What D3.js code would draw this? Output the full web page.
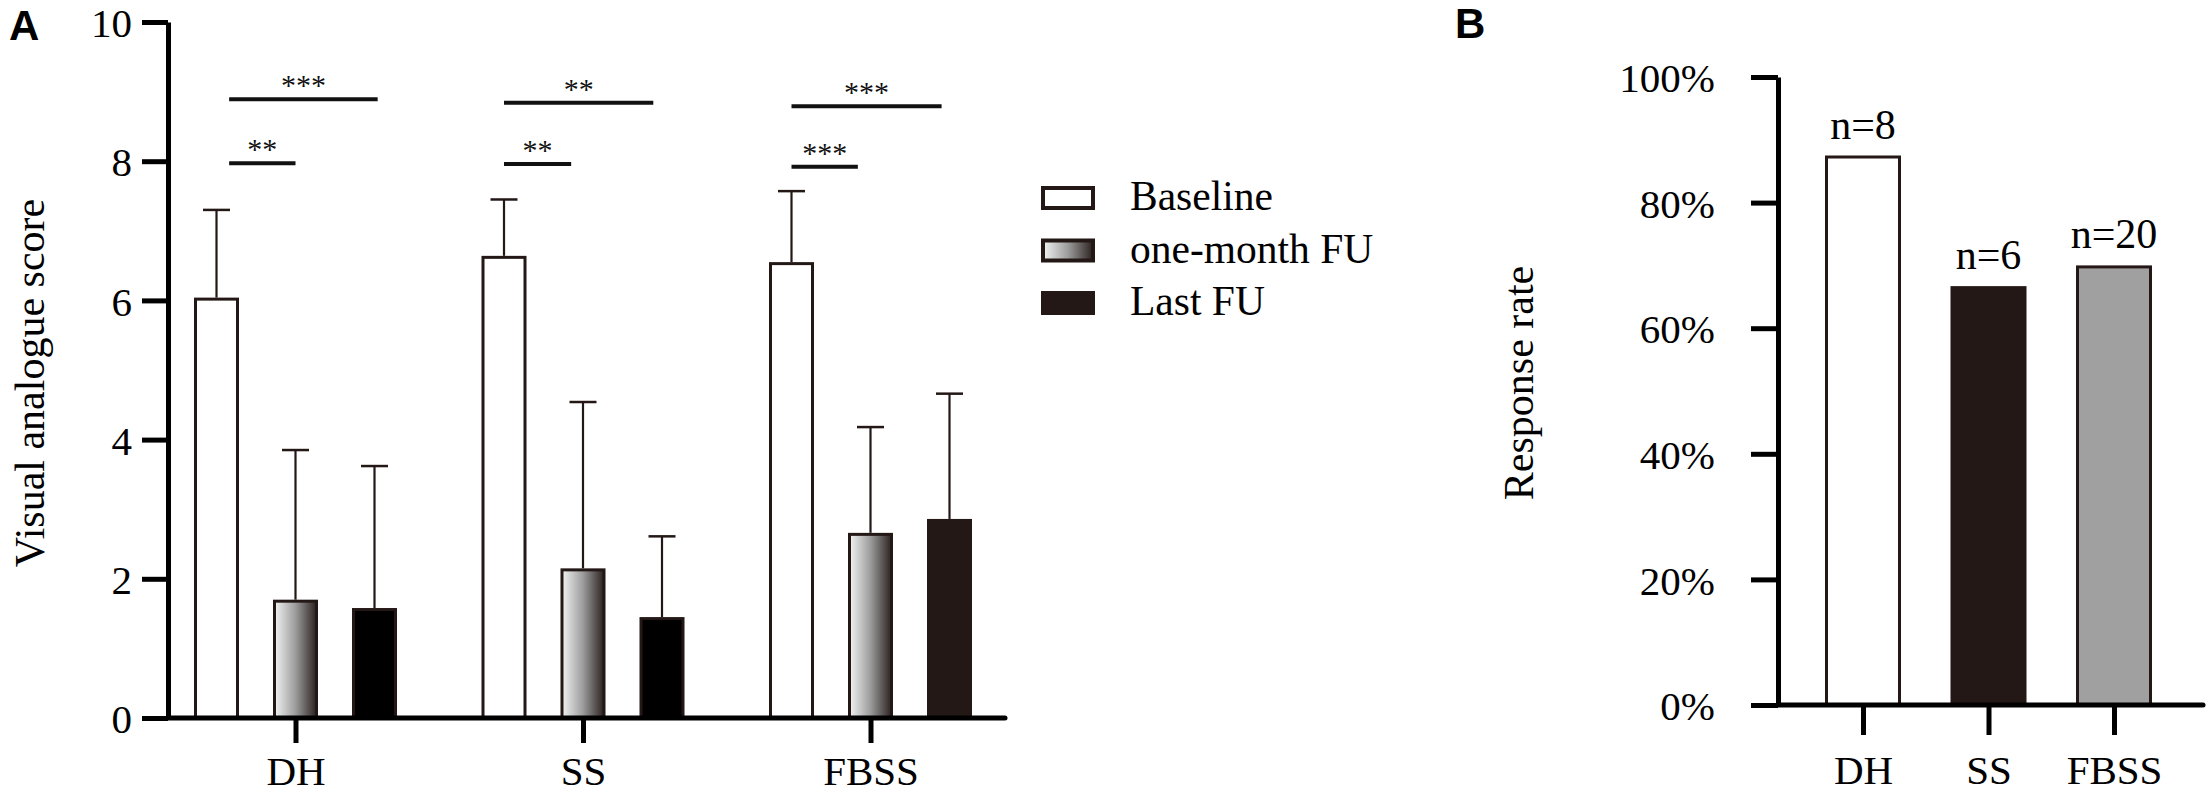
<!DOCTYPE html>
<html>
<head>
<meta charset="utf-8">
<script src="https://cdn.jsdelivr.net/npm/d3@7"></script>
<style>
  body { margin: 0; background: #fff; }
  svg { display: block; }
</style>
</head>
<body>
<div id="chart"></div>
<script>
// panel A: visual analogue score by group and time point
var groups = ['DH', 'SS', 'FBSS'];
var periods = ['Baseline', 'one-month FU', 'Last FU'];
var meanBaseline = [6.04, 6.64, 6.55];
var meanOneMonth = [1.70, 2.15, 2.66];
var meanLastFU   = [1.58, 1.45, 2.86];
var sdBaseline = [1.26, 0.81, 1.02];
var sdOneMonth = [2.15, 2.39, 1.52];
var sdLastFU   = [2.04, 1.16, 1.80];
var vasTicks = [0, 2, 4, 6, 8, 10];

// significance bars: group, from / to (bar index inside group), height, label
var sigGroup = ['DH', 'DH', 'SS', 'SS', 'FBSS', 'FBSS'];
var sigFrom  = [0.16, 0.16, 0, 0, 0, 0];
var sigTo    = [1.0, 2.04, 0.85, 1.89, 0.84, 1.9];
var sigLevel = [7.97, 8.89, 7.96, 8.84, 7.92, 8.79];
var sigLabel = ['**', '***', '**', '**', '***', '***'];

// panel B: response rate
var rateGroups = ['DH', 'SS', 'FBSS'];
var responseRate = [0.875, 0.667, 0.70];
var responseN = [8, 6, 20];
var rateTicks = [0, 0.2, 0.4, 0.6, 0.8, 1];

var W = 2208, H = 795;
var serif = 'Liberation Serif, Times New Roman, serif';
var dark = '#231815';

var svg = d3.select('#chart').append('svg')
  .attr('width', W)
  .attr('height', H)
  .attr('viewBox', [0, 0, W, H]);

var defs = svg.append('defs');
var grad = defs.append('linearGradient').attr('id', 'oneMonthGrad')
  .attr('x1', '0').attr('x2', '1').attr('y1', '0').attr('y2', '0');
grad.append('stop').attr('offset', '0%').attr('stop-color', '#f2f3f3');
grad.append('stop').attr('offset', '50%').attr('stop-color', '#9c9c9c');
grad.append('stop').attr('offset', '100%').attr('stop-color', '#2b2220');

// ---------- Panel A ----------
var ax0 = 168, axEnd = 1005;
var yA = d3.scaleLinear().domain([0, 10]).range([718, 22]);
var xA = d3.scalePoint().domain(groups).range([295.5, 870.5]);
var xInner = d3.scalePoint().domain(periods).range([-79, 79]);
var barW = 45, barStroke = 3;

var seriesMean = [meanBaseline, meanOneMonth, meanLastFU];
var seriesSd = [sdBaseline, sdOneMonth, sdLastFU];

function barFill(p, g) {
  if (p === 0) return '#fff';
  if (p === 1) return 'url(#oneMonthGrad)';
  return g === 'FBSS' ? dark : '#000';
}

var barsA = [];
periods.forEach(function(p, pi) {
  groups.forEach(function(g, gi) {
    barsA.push({ group: g, period: p, pi: pi, mean: seriesMean[pi][gi], sd: seriesSd[pi][gi] });
  });
});

var gA = svg.append('g').attr('id', 'panelA');

gA.selectAll('rect.bar').data(barsA).enter().append('rect')
  .attr('class', 'bar')
  .attr('x', function(d) { return xA(d.group) + xInner(d.period) - barW / 2 + barStroke / 2; })
  .attr('y', function(d) { return yA(d.mean) + barStroke / 2; })
  .attr('width', barW - barStroke)
  .attr('height', function(d) { return yA(0) - yA(d.mean) - barStroke / 2; })
  .attr('fill', function(d) { return barFill(d.pi, d.group); })
  .attr('stroke', dark)
  .attr('stroke-width', barStroke);

// upper error bars
var capW = 27;
gA.selectAll('line.err').data(barsA).enter().append('line')
  .attr('class', 'err')
  .attr('x1', function(d) { return xA(d.group) + xInner(d.period); })
  .attr('x2', function(d) { return xA(d.group) + xInner(d.period); })
  .attr('y1', function(d) { return yA(d.mean); })
  .attr('y2', function(d) { return yA(d.mean + d.sd); })
  .attr('stroke', dark)
  .attr('stroke-width', 2.2);
gA.selectAll('line.cap').data(barsA).enter().append('line')
  .attr('class', 'cap')
  .attr('x1', function(d) { return xA(d.group) + xInner(d.period) - capW / 2; })
  .attr('x2', function(d) { return xA(d.group) + xInner(d.period) + capW / 2; })
  .attr('y1', function(d) { return yA(d.mean + d.sd); })
  .attr('y2', function(d) { return yA(d.mean + d.sd); })
  .attr('stroke', dark)
  .attr('stroke-width', 2.5);

// significance lines
var sig = sigGroup.map(function(g, i) {
  return { group: g, from: sigFrom[i], to: sigTo[i], level: sigLevel[i], label: sigLabel[i] };
});
function innerPos(k) { return xInner(periods[0]) + k * xInner.step(); }

gA.selectAll('line.sig').data(sig).enter().append('line')
  .attr('class', 'sig')
  .attr('x1', function(d) { return xA(d.group) + innerPos(d.from); })
  .attr('x2', function(d) { return xA(d.group) + innerPos(d.to); })
  .attr('y1', function(d) { return yA(d.level); })
  .attr('y2', function(d) { return yA(d.level); })
  .attr('stroke', '#111')
  .attr('stroke-width', 4);
gA.selectAll('text.sig').data(sig).enter().append('text')
  .attr('class', 'sig')
  .attr('x', function(d) { return xA(d.group) + (innerPos(d.from) + innerPos(d.to)) / 2; })
  .attr('y', function(d) { return yA(d.level) - 4; })
  .attr('text-anchor', 'middle')
  .attr('font-family', serif)
  .attr('font-size', 30)
  .attr('fill', '#111')
  .text(function(d) { return d.label; });

// axes
var yAxisA = gA.append('g')
  .attr('transform', 'translate(' + ax0 + ',0)')
  .call(d3.axisLeft(yA).tickValues(vasTicks).tickSize(26).tickSizeOuter(0).tickPadding(10));
var xAxisA = gA.append('g')
  .attr('transform', 'translate(0,' + yA(0) + ')')
  .call(d3.axisBottom(xA).tickSize(25).tickSizeOuter(0).tickPadding(13));
xAxisA.select('.domain').remove();
gA.append('line')
  .attr('x1', ax0).attr('x2', axEnd)
  .attr('y1', yA(0)).attr('y2', yA(0))
  .attr('stroke', '#000').attr('stroke-width', 5).attr('stroke-linecap', 'round');

// legend
var legend = gA.append('g').attr('id', 'legend')
  .attr('transform', 'translate(1043,198)');
legend.selectAll('rect').data(periods).enter().append('rect')
  .attr('x', 0)
  .attr('y', function(d, i) { return i * 52.5 - 10; })
  .attr('width', 50)
  .attr('height', 20)
  .attr('fill', function(d, i) { return i === 2 ? dark : barFill(i, 'DH'); })
  .attr('stroke', dark)
  .attr('stroke-width', 4);
legend.selectAll('text').data(periods).enter().append('text')
  .attr('x', 87)
  .attr('y', function(d, i) { return i * 52.5 + 12; })
  .attr('font-family', serif)
  .attr('font-size', 41.5)
  .attr('fill', '#000')
  .text(function(d) { return d; });

// axis title
gA.append('text')
  .attr('transform', 'translate(44,383) rotate(-90)')
  .attr('text-anchor', 'middle')
  .attr('font-family', serif)
  .attr('font-size', 42)
  .text('Visual analogue score');

// ---------- Panel B ----------
var bx0 = 1778, bxEnd = 2203;
var yB = d3.scaleLinear().domain([0, 1]).range([705, 77]);
var xB = d3.scalePoint().domain(rateGroups).range([1863, 2114]);
var barWB = 76;
var rateFill = ['#fff', dark, '#a0a0a0'];

var barsB = rateGroups.map(function(g, i) {
  return { group: g, rate: responseRate[i], n: responseN[i], fill: rateFill[i] };
});

var gB = svg.append('g').attr('id', 'panelB');
gB.selectAll('rect.bar').data(barsB).enter().append('rect')
  .attr('class', 'bar')
  .attr('x', function(d) { return xB(d.group) - barWB / 2 + barStroke / 2; })
  .attr('y', function(d) { return yB(d.rate) + barStroke / 2; })
  .attr('width', barWB - barStroke)
  .attr('height', function(d) { return yB(0) - yB(d.rate) - barStroke / 2; })
  .attr('fill', function(d) { return d.fill; })
  .attr('stroke', dark)
  .attr('stroke-width', barStroke);
gB.selectAll('text.n').data(barsB).enter().append('text')
  .attr('class', 'n')
  .attr('x', function(d) { return xB(d.group); })
  .attr('y', function(d) { return yB(d.rate) - 17; })
  .attr('text-anchor', 'middle')
  .attr('font-family', serif)
  .attr('font-size', 42)
  .text(function(d) { return 'n=' + d.n; });

var yAxisB = gB.append('g')
  .attr('transform', 'translate(' + bx0 + ',0)')
  .call(d3.axisLeft(yB).tickValues(rateTicks).tickFormat(d3.format('.0%'))
    .tickSize(27).tickSizeOuter(0).tickPadding(36));
var xAxisB = gB.append('g')
  .attr('transform', 'translate(0,' + yB(0) + ')')
  .call(d3.axisBottom(xB).tickSize(30).tickSizeOuter(0).tickPadding(20));
xAxisB.select('.domain').remove();
gB.append('line')
  .attr('x1', bx0).attr('x2', bxEnd)
  .attr('y1', yB(0)).attr('y2', yB(0))
  .attr('stroke', '#000').attr('stroke-width', 5).attr('stroke-linecap', 'round');

gB.append('text')
  .attr('transform', 'translate(1533,383) rotate(-90)')
  .attr('text-anchor', 'middle')
  .attr('font-family', serif)
  .attr('font-size', 42)
  .text('Response rate');

// shared axis styling
[yAxisA, xAxisA, yAxisB, xAxisB].forEach(function(ax) {
  ax.selectAll('.domain').attr('stroke', '#000').attr('stroke-width', 5);
  ax.selectAll('.tick line').attr('stroke', '#000').attr('stroke-width', 5);
  ax.selectAll('.tick text')
    .attr('font-family', serif)
    .attr('font-size', 41)
    .attr('fill', '#000');
});
// nudge the y tick labels down a touch so the top one stays inside the page
[yAxisA, yAxisB].forEach(function(ax) {
  ax.selectAll('.tick text').attr('dy', '0.36em');
});

// panel letters
svg.append('text').attr('x', 9).attr('y', 40)
  .attr('font-family', 'Liberation Sans, Arial, sans-serif')
  .attr('font-weight', 'bold').attr('font-size', 42)
  .text('A');
svg.append('text').attr('x', 1455).attr('y', 38)
  .attr('font-family', 'Liberation Sans, Arial, sans-serif')
  .attr('font-weight', 'bold').attr('font-size', 42)
  .text('B');
</script>
</body>
</html>
